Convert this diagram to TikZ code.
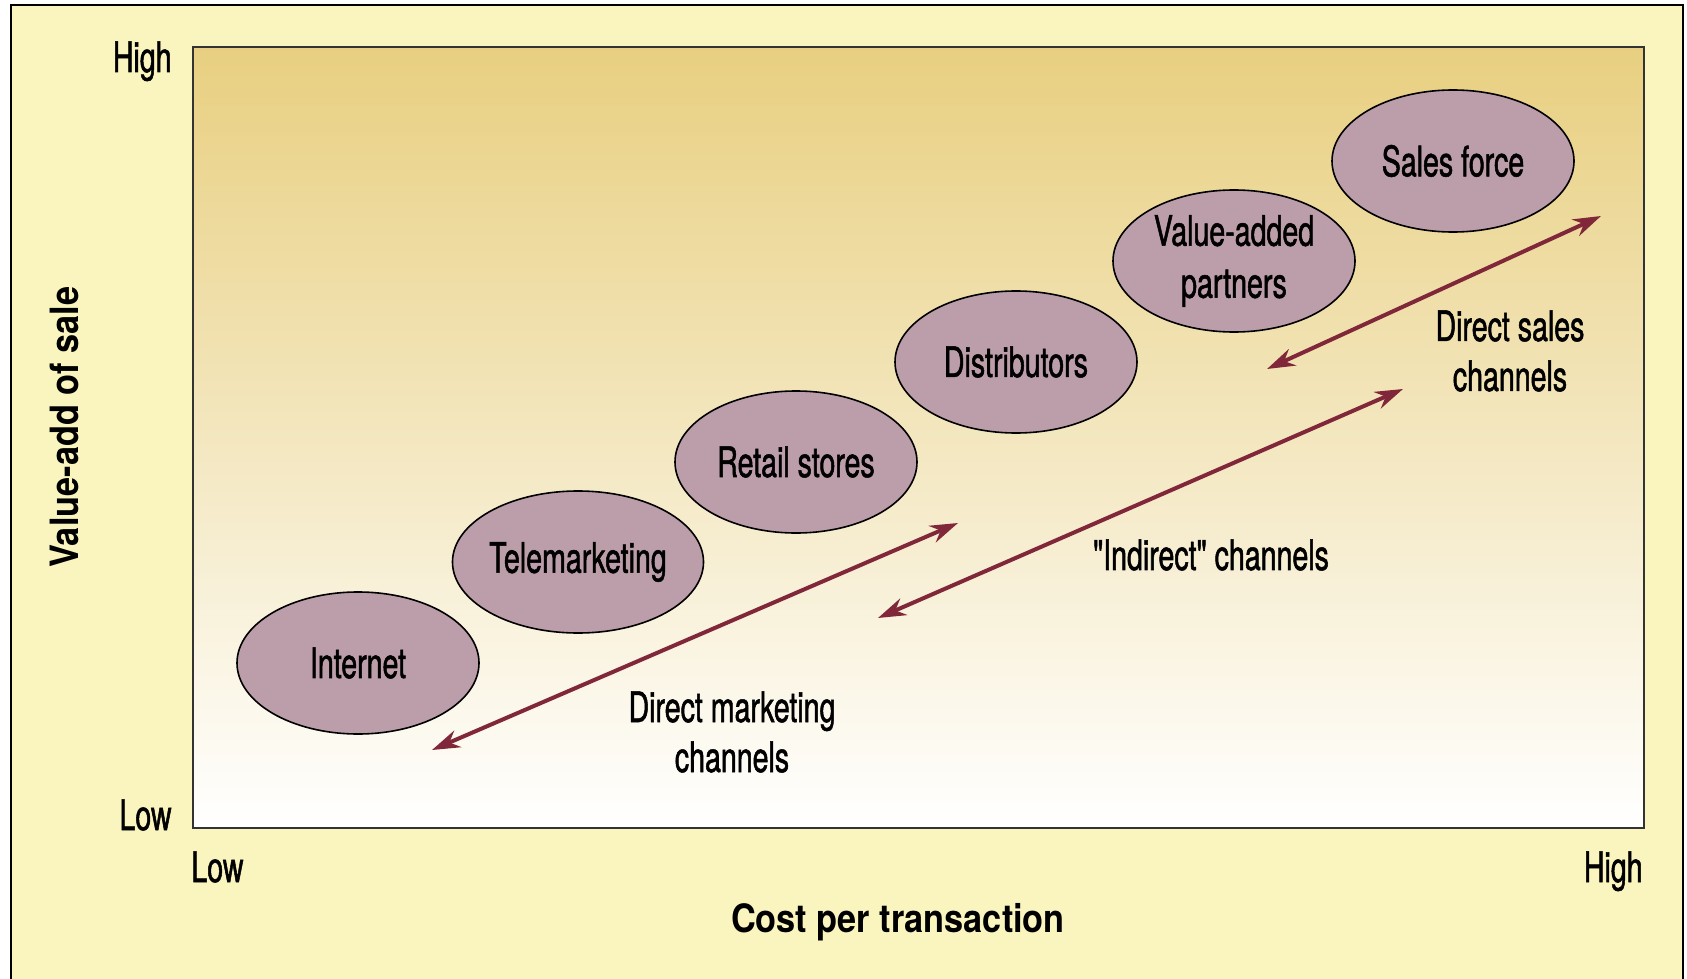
\documentclass[tikz,border=0pt]{standalone}
\usepackage{fontspec}
\setmainfont[FakeStretch=0.68,FakeBold=1.2,Ligatures=TeXOff]{TeX Gyre Heros}
\newfontfamily\boldlab[FakeStretch=0.88]{TeX Gyre Heros}
\usetikzlibrary{shapes.geometric,arrows.meta}
\definecolor{bgyellow}{RGB}{250,245,190}
\definecolor{goldtop}{RGB}{232,207,128}
\definecolor{ellfill}{RGB}{188,157,170}
\definecolor{arrowred}{RGB}{128,40,58}
\begin{document}
\begin{tikzpicture}[x=0.5pt,y=-0.5pt,
  chan/.style={ellipse, draw=black, line width=0.8pt, fill=ellfill, minimum width=121pt, minimum height=71pt, inner sep=0pt, font=\fontsize{21}{26}\selectfont, align=center},
  lab/.style={font=\fontsize{21}{25}\selectfont, align=center},
  axlab/.style={font=\boldlab\bfseries\fontsize{19.5}{24}\selectfont},
  dbl/.style={draw=arrowred, line width=2pt, {Stealth[length=14pt,width=9pt]}-{Stealth[length=14pt,width=9pt]}}
]
\useasboundingbox (0,0) rectangle (1687,979);
\fill[white] (0,0) rectangle (1687,979);
\draw[fill=bgyellow, line width=1.2pt] (11,5) rectangle (1683,1000);
\shade[top color=goldtop, bottom color=white] (193,47) rectangle (1644,828);
\draw[line width=1pt, black!80] (193,47) rectangle (1644,828);

\node[chan] (internet) at (358,663) {Internet};
\node[chan] (tele) at (578,562) {Telemarketing};
\node[chan] (retail) at (796,462) {Retail stores};
\node[chan] (distr) at (1016,362) {Distributors};
\node[chan] (vap) at (1234,261) {Value-added\\partners};
\node[chan] (sales) at (1453,161) {Sales force};

\coordinate (dm1) at (432,750);
\coordinate (dm2) at (958,523);
\coordinate (in1) at (878,618);
\coordinate (in2) at (1403,389);
\coordinate (ds1) at (1267,369);
\coordinate (ds2) at (1601,216);
\draw[dbl] (dm1) -- (dm2);
\draw[dbl] (in1) -- (in2);
\draw[dbl] (ds1) -- (ds2);

\node[lab] (dmlab) at (732,732) {Direct marketing\\channels};
\node[lab] (inlab) at (1211,555) {"Indirect" channels};
\node[lab] (dslab) at (1510,351) {Direct sales\\channels};

\node[lab, inner sep=0pt, anchor=base east] (yhigh) at (172,72) {High};
\node[lab, inner sep=0pt, anchor=base east] (ylow) at (172,830) {Low};
\node[lab, inner sep=0pt, anchor=base west] (xlow) at (191,882) {Low};
\node[lab, inner sep=0pt, anchor=base east] (xhigh) at (1643,882) {High};
\node[axlab] (xtitle) at (898,922) {Cost per transaction};
\node[axlab, rotate=90] (ytitle) at (64,427) {Value-add of sale};
\end{tikzpicture}
\end{document}
